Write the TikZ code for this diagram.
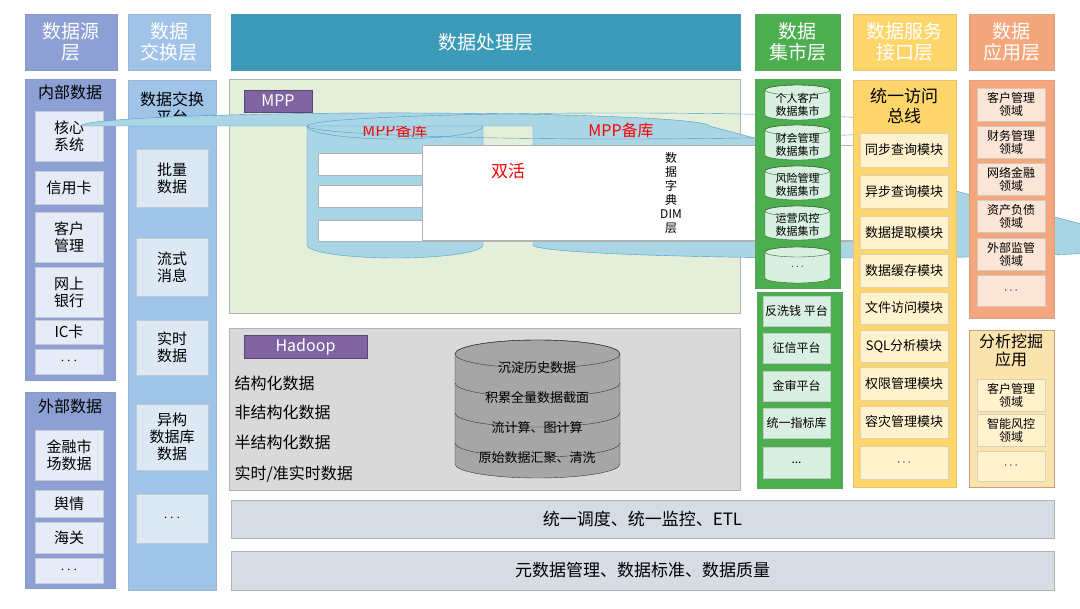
\documentclass[tikz,border=0pt]{standalone}
\usepackage{fontspec}
\setmainfont{Noto Sans CJK SC}
\begin{document}
\begin{tikzpicture}[x=1pt,y=-1pt,
 hd/.style={draw=#1!80!gray,fill=#1,text=white,font=\fontsize{19}{21}\selectfont},
 pn/.style={draw=#1!80!gray,fill=#1},
 bx/.style={draw=#1!70!gray,fill=#1,font=\fontsize{15}{17}\selectfont},
 sb/.style={draw=#1!70!gray,fill=#1,font=\fontsize{12}{14}\selectfont},
 lbl/.style={fill=lab,draw=lab!70!black,text=white,font=\fontsize{16}{18}\selectfont},
 tt/.style={font=\fontsize{16}{18}\selectfont,align=center},
 ib/.style={draw=gray!60,fill=white,font=\fontsize{11}{13}\selectfont,inner sep=1pt},
 ht/.style={anchor=west,font=\fontsize{16}{18}\selectfont},
 hc/.style={font=\fontsize{13}{15}\selectfont},
 mc/.style={font=\fontsize{11}{13}\selectfont,align=center},
 vb/.style={sb=svcB,font=\fontsize{13}{15}\selectfont},
 ab/.style={sb=#1,font=\fontsize{12}{13}\selectfont}]
\definecolor{srcH}{HTML}{8DA0D4}\definecolor{srcB}{HTML}{E6ECF7}
\definecolor{exH}{HTML}{A0C4E8}\definecolor{exB}{HTML}{DCE9F5}
\definecolor{proc}{HTML}{3B9BB9}\definecolor{mppP}{HTML}{E3EFD9}
\definecolor{lab}{HTML}{8064A2}\definecolor{cylF}{HTML}{A9D5E5}\definecolor{cylD}{HTML}{4A9CCC}
\definecolor{hadP}{HTML}{D9D9D9}\definecolor{hadC}{HTML}{A6A6A6}
\definecolor{martH}{HTML}{4CAE4F}\definecolor{martB}{HTML}{D9EFE1}
\definecolor{svcH}{HTML}{FDD56B}\definecolor{svcB}{HTML}{FFF2CC}
\definecolor{appH}{HTML}{F4A77C}\definecolor{appB}{HTML}{FBE5D6}\definecolor{anaP}{HTML}{FBE3AE}
\definecolor{bar}{HTML}{D6DCE4}
\newcommand\R[7]{\node[#6,minimum width={(#4-#2)*1pt},minimum height={(#5-#3)*1pt},inner sep=0pt,align=center] (#1) at ({(#2+#4)/2},{(#3+#5)/2}) {#7};}
\newcommand\cyl[7]{%
 \pgfmathsetmacro\myrx{(#3-#1)/2}%
 \filldraw[fill=#6,draw=#7] (#1,#2+#5) -- (#1,#4-#5) arc[start angle=180,end angle=360,x radius=\myrx pt,y radius=#5 pt] -- (#3,#2+#5) arc[start angle=0,end angle=180,x radius=\myrx pt,y radius=#5 pt] -- cycle;
 \draw[draw=#7] ({(#1+#3)/2},#2+#5) ellipse[x radius=\myrx pt,y radius=#5 pt];}
\newcommand\mpp[2]{%
 \cyl{307+#1}{113}{483+#1}{258}{13}{cylF}{cylD}
 \node[text=red,font=\fontsize{16}{18}\selectfont] (mt#2) at (395+#1,130) {MPP备库};
 \R{ads#2}{318+#1}{153}{413+#1}{175}{ib}{ADS数据应用层}
 \R{dws#2}{318+#1}{185}{413+#1}{207}{ib}{DWS数据汇总层}
 \R{dwd#2}{318+#1}{220}{413+#1}{241}{ib}{DWD数据明细层}
 \R{dim#2}{422+#1}{145}{468+#1}{240}{ib,font=\fontsize{12}{14}\selectfont}{数\\据\\字\\典\\DIM\\层}}
\newcommand\mcyl[4]{\cyl{765}{#1}{830}{#2}{5}{martB}{martH!60!black}
 \node[mc] (#4) at (797.5,{(#1+#2)/2+2}) {#3};}
\useasboundingbox (0,0) rectangle (1080,609);
\fill[white] (0,0) rectangle (1080,609);
% headers
\R{h1}{25}{14}{117}{70}{hd=srcH}{数据源\\层}
\R{h2}{128}{14}{210}{70}{hd=exH}{数据\\交换层}
\R{h3}{231}{14}{740}{70}{hd=proc}{数据处理层}
\R{h4}{755}{14}{840}{70}{hd=martH}{数据\\集市层}
\R{h5}{853}{14}{956}{70}{hd=svcH}{数据服务\\接口层}
\R{h6}{969}{14}{1054}{70}{hd=appH}{数据\\应用层}
% source
\R{p1}{25}{79}{115}{380}{pn=srcH}{}
\node[tt] (t1) at (70,92) {内部数据};
\R{s1}{35}{111}{103}{161}{bx=srcB}{核心\\系统}
\R{s2}{35}{171}{103}{204}{bx=srcB}{信用卡}
\R{s3}{35}{212}{103}{262}{bx=srcB}{客户\\管理}
\R{s4}{35}{267}{103}{317}{bx=srcB}{网上\\银行}
\R{s5}{35}{320}{103}{344}{bx=srcB}{IC卡}
\R{s6}{35}{349}{103}{374}{bx=srcB}{$\cdots$}
\R{p2}{25}{392}{115}{588}{pn=srcH}{}
\node[tt] (t2) at (70,406) {外部数据};
\R{s7}{35}{430}{103}{480}{bx=srcB}{金融市\\场数据}
\R{s8}{35}{490}{103}{517}{bx=srcB}{舆情}
\R{s9}{35}{522}{103}{553}{bx=srcB}{海关}
\R{s10}{35}{558}{103}{583}{bx=srcB}{$\cdots$}
% exchange
\R{p3}{128}{80}{216}{590}{pn=exH}{}
\node[tt] (t3) at (172,108) {数据交换\\平台};
\R{e1}{136}{149}{208}{207}{bx=exB}{批量\\数据}
\R{e2}{136}{238}{208}{296}{bx=exB}{流式\\消息}
\R{e3}{136}{320}{208}{375}{bx=exB}{实时\\数据}
\R{e4}{136}{404}{208}{470}{bx=exB}{异构\\数据库\\数据}
\R{e5}{136}{494}{208}{543}{bx=exB}{$\cdots$}
% MPP
\R{pm}{229}{79}{740}{313}{draw=gray!60,fill=mppP}{}
\R{lm}{244}{90}{312}{112}{lbl}{MPP}
\mpp{0}{a}
\mpp{226}{b}
\node[text=red,font=\fontsize{17}{19}\selectfont] (sh) at (508,171) {双活};
% Hadoop
\R{ph}{229}{328}{740}{490}{draw=gray!60,fill=hadP}{}
\R{lh}{244}{335}{367}{358}{lbl}{Hadoop}
\node[ht] (hda) at (231,383) {结构化数据};
\node[ht] (hdb) at (231,412) {非结构化数据};
\node[ht] (hdc) at (231,442) {半结构化数据};
\node[ht] (hdd) at (231,474) {实时/准实时数据};
\cyl{455}{340}{620}{478}{14}{hadC}{gray!40!black}
\draw[gray!40!black] (455,383) arc[start angle=180,end angle=360,x radius=82.5pt,y radius=14pt];
\draw[gray!40!black] (455,413) arc[start angle=180,end angle=360,x radius=82.5pt,y radius=14pt];
\draw[gray!40!black] (455,443) arc[start angle=180,end angle=360,x radius=82.5pt,y radius=14pt];
\node[hc] (hca) at (537,368) {沉淀历史数据};
\node[hc] (hcb) at (537,398) {积累全量数据截面};
\node[hc] (hcc) at (537,428) {流计算、图计算};
\node[hc] (hcd) at (537,458) {原始数据汇聚、清洗};
% bars
\R{b1}{231}{500}{1054}{538}{draw=gray!60,fill=bar,font=\fontsize{17}{19}\selectfont}{统一调度、统一监控、ETL}
\R{b2}{231}{551}{1054}{590}{draw=gray!60,fill=bar,font=\fontsize{17}{19}\selectfont}{元数据管理、数据标准、数据质量}
% mart
\R{p4}{755}{79}{840}{288}{pn=martH}{}
\mcyl{85}{120}{个人客户\\数据集市}{mca}
\mcyl{125}{160}{财会管理\\数据集市}{mcb}
\mcyl{166}{200}{风险管理\\数据集市}{mcc}
\mcyl{206}{240}{运营风控\\数据集市}{mcd}
\mcyl{247}{283}{$\cdots$}{mce}
\R{p5}{757}{292}{842}{488}{pn=martH}{}
\R{m1}{763}{296}{830}{326}{sb=martB}{反洗钱 平台}
\R{m2}{763}{333}{830}{363}{sb=martB}{征信平台}
\R{m3}{763}{371}{830}{401}{sb=martB}{金审平台}
\R{m4}{763}{408}{830}{438}{sb=martB}{统一指标库}
\R{m5}{763}{447}{830}{478}{sb=martB}{...}
% service
\R{p6}{853}{80}{956}{487}{pn=svcH}{}
\node[tt,font=\fontsize{17}{20}\selectfont] (t6) at (904,106) {统一访问\\总线};
\R{va}{860}{133}{948}{167}{vb}{同步查询模块}
\R{vb}{860}{175}{948}{208}{vb}{异步查询模块}
\R{vc}{860}{216}{948}{249}{vb}{数据提取模块}
\R{vd}{860}{254}{948}{287}{vb}{数据缓存模块}
\R{ve}{860}{292}{948}{324}{vb}{文件访问模块}
\R{vf}{860}{330}{948}{362}{vb}{SQL分析模块}
\R{vg}{860}{367}{948}{400}{vb}{权限管理模块}
\R{vh}{860}{406}{948}{438}{vb}{容灾管理模块}
\R{vi}{860}{446}{948}{479}{vb}{$\cdots$}
% application
\R{p7}{969}{80}{1054}{318}{pn=appH}{}
\R{aa}{977}{88}{1045}{121}{ab=appB}{客户管理\\领域}
\R{ab}{977}{126}{1045}{158}{ab=appB}{财务管理\\领域}
\R{ac}{977}{163}{1045}{195}{ab=appB}{网络金融\\领域}
\R{ad}{977}{200}{1045}{232}{ab=appB}{资产负债\\领域}
\R{ae}{977}{238}{1045}{270}{ab=appB}{外部监管\\领域}
\R{af}{977}{275}{1045}{306}{ab=appB}{$\cdots$}
\R{p8}{969}{330}{1054}{487}{draw=appH!70!gray,fill=anaP}{}
\node[tt] (t8) at (1011,350) {分析挖掘\\应用};
\R{na}{977}{379}{1045}{411}{ab=svcB}{客户管理\\领域}
\R{nb}{977}{414}{1045}{446}{ab=svcB}{智能风控\\领域}
\R{nc}{977}{451}{1045}{481}{ab=svcB}{$\cdots$}
\end{tikzpicture}
\end{document}
